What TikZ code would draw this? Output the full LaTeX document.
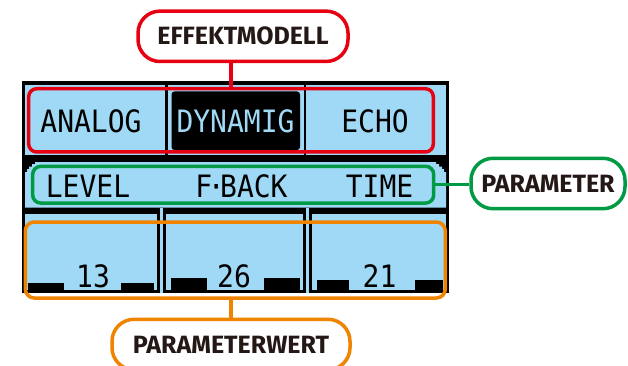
\documentclass[tikz,border=0pt]{standalone}
\usepackage{fontspec}
\setmainfont{Fira Sans}
\newfontfamily\labelfont{Fira Sans Bold}
\newfontfamily\lcdfont{DejaVu Sans Mono}
\definecolor{lcdblue}{RGB}{160,217,246}
\definecolor{cred}{RGB}{230,0,18}
\definecolor{cgreen}{RGB}{0,154,68}
\definecolor{corange}{RGB}{240,131,0}
\definecolor{ctext}{RGB}{35,24,21}
\newcommand\lcdtxt[1]{\scalebox{1}[1.1]{#1}}
\tikzset{
  lcd/.style={font=\lcdfont\fontsize{28}{28}\selectfont, inner sep=0pt, anchor=center, text=black},
  frame/.style={draw=#1, line width=3.5pt, rounded corners=8pt, fill=none, inner sep=0pt},
  callout/.style={draw=#1, line width=3.5pt, rounded corners=22pt, fill=white, inner sep=0pt,
    minimum height=50.4pt, text=ctext, font=\labelfont\fontsize{25}{25}\selectfont},
  conn/.style={draw=#1, line width=3.5pt},
}
\begin{document}
\begin{tikzpicture}[x=1pt,y=-1pt]
\useasboundingbox (0,0) rectangle (628,366);
% screen backdrop
\fill[black] (22,81) rectangle (449,293);
% top row
\fill[lcdblue] (25,85) rectangle (446,155);
\fill[black] (165,85) rectangle (167.5,155);
\fill[black] (303.5,85) rectangle (306,155);
\fill[black, rounded corners=3pt] (171.5,91.5) rectangle (300,150);
% second row
\fill[lcdblue] (25,207.5) -- (25,172) -- (27,172) -- (27,169) -- (29,169) -- (29,166.5) -- (32,166.5) -- (32,164) -- (35,164) -- (35,162)
  -- (436,162) -- (436,164) -- (439,164) -- (439,166.5) -- (442,166.5) -- (442,169) -- (444,169) -- (444,172) -- (446,172) -- (446,207.5) -- cycle;
% third row
\fill[lcdblue] (160,207.5) rectangle (163,293);
\fill[lcdblue] (306,207.5) rectangle (309,293);
\fill[lcdblue] (25,214) rectangle (157,290);
\fill[lcdblue] (166,214) rectangle (303,290);
\fill[lcdblue] (312,214) rectangle (446,290);
% bars
\fill[black] (28,283) rectangle (64,290);
\fill[black] (121,283) rectangle (154,290);
\fill[black] (171,278) rectangle (207,290);
\fill[black] (264,278) rectangle (300,290);
\fill[black] (317,280) rectangle (349,290);
\fill[black] (415,280) rectangle (443,290);
% LCD texts
\node[lcd] (analog) at (91,121.5) {\lcdtxt{ANALOG}};
\node[lcd, text=lcdblue] (dynamig) at (235.5,121.5) {\lcdtxt{DYNAMIG}};
\node[lcd] (echo) at (375,121.5) {\lcdtxt{ECHO}};
\node[lcd] (level) at (88,186.5) {\lcdtxt{LEVEL}};
\node[lcd] (fback) at (241.5,186.5) {\lcdtxt{F\kern-4.5pt·\kern-4.5pt BACK}};
\node[lcd] (time) at (379.5,186.5) {\lcdtxt{TIME}};
\node[lcd] (v13) at (93,276) {\lcdtxt{13}};
\node[lcd] (v26) at (234,276) {\lcdtxt{26}};
\node[lcd] (v21) at (379.5,276) {\lcdtxt{21}};
% colored frames
\node[frame=cred, minimum width=404.6pt, minimum height=63.3pt] (redrect) at (231,120.35) {};
\node[frame=cgreen, minimum width=401pt, minimum height=36.7pt] (greenrect) at (233.2,184.7) {};
\node[frame=corange, minimum width=420pt, minimum height=76pt, rounded corners=9pt] (orangerect) at (235.3,260) {};
% callouts
\node[callout=cred, minimum width=210pt] (effekt) at (243,36.3) {EFFEKTMODELL};
\node[callout=cgreen, minimum width=154pt] (param) at (548,183.5) {PARAMETER};
\node[callout=corange, minimum width=238pt] (wert) at (231,344.5) {PARAMETERWERT};
% connectors
\draw[conn=cred] (redrect.north) -- (redrect.north |- effekt.south);
\draw[conn=cgreen] (greenrect.east) -- (greenrect.east -| param.west);
\draw[conn=corange] (wert.north) -- (wert.north |- orangerect.south);
\end{tikzpicture}
\end{document}
